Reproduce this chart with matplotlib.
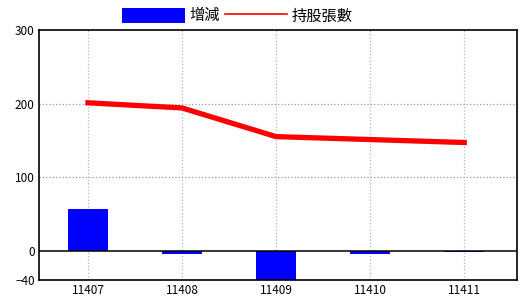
import matplotlib
matplotlib.use('Agg')
import matplotlib.pyplot as plt

plt.rcParams['font.family'] = ['Noto Sans CJK TC', 'DejaVu Sans']

months = ['11407', '11408', '11409', '11410', '11411']
change = [57, -5, -40, -4, -2.5]
holdings = [201, 194, 155, 151, 147]

fig = plt.figure(figsize=(5.2, 3.0), dpi=100)
ax = fig.add_axes([0.075, 0.0667, 0.919, 0.8333])

x = range(len(months))
ax.bar(x, change, width=0.43, color='#0000ff', label='增減', zorder=2)
ax.plot(x, holdings, color='#ff0000', linewidth=3.8, label='持股張數', zorder=3)
ax.axhline(0, color='black', linewidth=1.1, zorder=2)

ax.set_xlim(-0.52, 4.56)
ax.set_ylim(-40, 300)
ax.set_yticks([-40, 0, 100, 200, 300])
ax.set_xticks(list(x))
ax.set_xticklabels(months)
ax.tick_params(length=0, labelsize=8.5, pad=3)

for y in [100, 200]:
    ax.axhline(y, color='#999999', linestyle=':', linewidth=0.9, zorder=1)
for xi in x:
    ax.axvline(xi, color='#9dbcd4', linestyle=':', linewidth=0.9, zorder=1)

for s in ax.spines.values():
    s.set_linewidth(1.2)

handles, labels = ax.get_legend_handles_labels()
leg = fig.legend(handles[::-1], labels[::-1], loc='center', bbox_to_anchor=(0.457, 0.947),
                 ncol=2, frameon=False, fontsize=11, handlelength=4.1, handleheight=1.1,
                 handletextpad=0.3, columnspacing=0.3, borderpad=0)
leg.legend_handles[1].set_linewidth(1.2)

fig.savefig('out.png', dpi=100)
